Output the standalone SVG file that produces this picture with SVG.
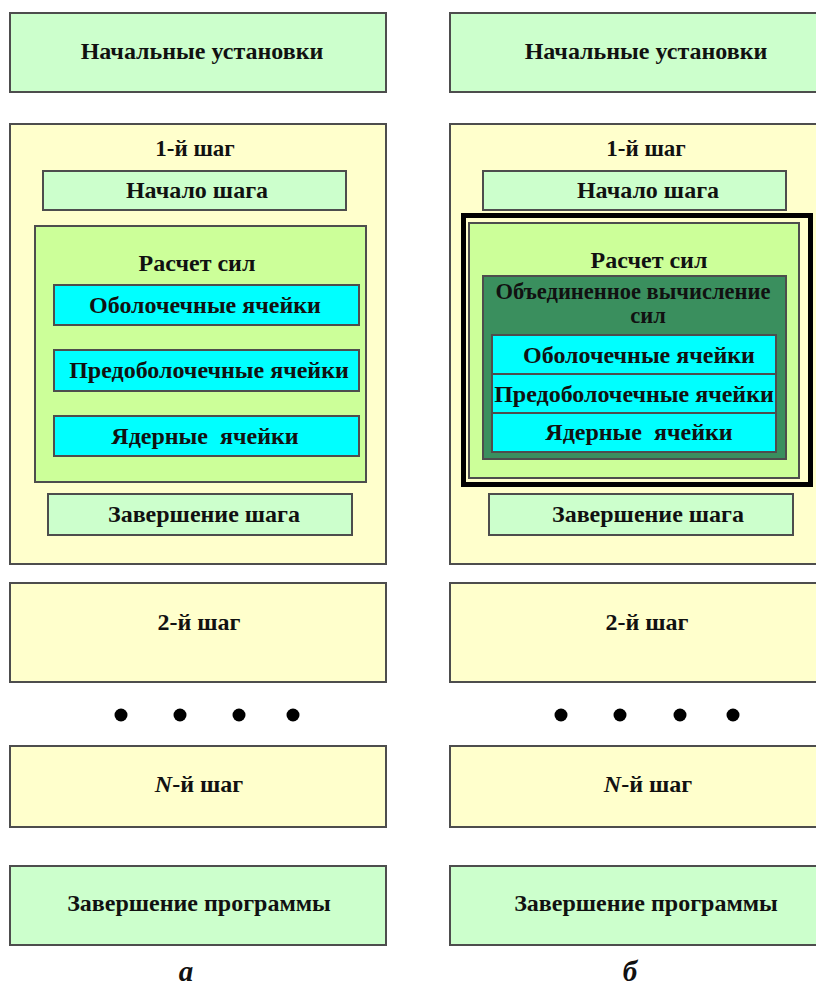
<svg xmlns="http://www.w3.org/2000/svg" width="816" height="991" viewBox="0 0 816 991">
<style>
.b{stroke:#4d4d4d;stroke-width:2}
.lg{fill:#ccffcc}
.yl{fill:#ffffcc}
.gr{fill:#ccff99}
.cy{fill:#00ffff}
.dg{fill:#3a8f5e}
text{font-family:"Liberation Serif","Times New Roman",serif;font-weight:bold;font-size:24px;fill:#111;text-anchor:middle}
.sm{font-size:23px}
.un{font-size:22.5px}
.lab{font-size:29px;font-style:italic}
</style>
<rect width="816" height="991" fill="#ffffff"/>
<!-- Left column (a) -->
<g id="a-start"><rect class="b lg" x="10" y="13" width="376" height="79"/><text x="202" y="59">Начальные установки</text></g>
<g id="a-step1"><rect class="b yl" x="10" y="124" width="376" height="440"/><text class="sm" x="195" y="156">1-й шаг</text></g>
<g id="a-stepstart"><rect class="b lg" x="43" y="171" width="303" height="39"/><text x="197" y="198">Начало шага</text></g>
<g id="a-forces"><rect class="b gr" x="35" y="226" width="331" height="256"/><text x="197" y="271">Расчет сил</text></g>
<g id="a-shell"><rect class="b cy" x="54" y="285" width="305" height="40"/><text x="205" y="313">Оболочечные ячейки</text></g>
<g id="a-preshell"><rect class="b cy" x="54" y="350" width="305" height="41"/><text x="209" y="378">Предоболочечные ячейки</text></g>
<g id="a-core"><rect class="b cy" x="54" y="416" width="305" height="40"/><text x="205" y="444" xml:space="preserve">Ядерные  ячейки</text></g>
<g id="a-stepend"><rect class="b lg" x="48" y="494" width="304" height="41"/><text x="204" y="522">Завершение шага</text></g>
<g id="a-step2"><rect class="b yl" x="10" y="583" width="376" height="99"/><text x="199" y="630">2-й шаг</text></g>
<g id="a-dots" fill="#000"><circle cx="121" cy="715" r="6.5"/><circle cx="180" cy="715" r="6.5"/><circle cx="239" cy="715" r="6.5"/><circle cx="293" cy="715" r="6.5"/></g>
<g id="a-stepN"><rect class="b yl" x="10" y="746" width="376" height="81"/><text x="199" y="792"><tspan font-style="italic">N</tspan>-й шаг</text></g>
<g id="a-end"><rect class="b lg" x="10" y="866" width="376" height="79"/><text x="199" y="911">Завершение программы</text></g>
<g id="a-label"><text class="lab" x="186" y="981">а</text></g>
<!-- Right column (b) -->
<g id="b-start"><rect class="b lg" x="450" y="13" width="380" height="79"/><text x="646" y="59">Начальные установки</text></g>
<g id="b-step1"><rect class="b yl" x="450" y="124" width="380" height="440"/><text class="sm" x="646" y="156">1-й шаг</text></g>
<g id="b-stepstart"><rect class="b lg" x="483" y="171" width="303" height="39"/><text x="648" y="198">Начало шага</text></g>
<g id="b-frame"><rect x="463.5" y="215.5" width="347" height="269" fill="none" stroke="#000" stroke-width="5"/></g>
<g id="b-forces"><rect class="b gr" x="469" y="223" width="330" height="255"/><text x="649" y="268">Расчет сил</text></g>
<g id="b-united"><rect class="b dg" x="483" y="276" width="303" height="183"/><text class="un" x="633" y="299">Объединенное вычисление</text><text class="un" x="648" y="323">сил</text></g>
<g id="b-shell"><rect class="b cy" x="492" y="335" width="284" height="39"/><text x="639" y="363">Оболочечные ячейки</text></g>
<g id="b-preshell"><rect class="b cy" x="492" y="374" width="284" height="39"/><text x="634" y="402">Предоболочечные ячейки</text></g>
<g id="b-core"><rect class="b cy" x="492" y="413" width="284" height="39"/><text x="639" y="440" xml:space="preserve">Ядерные  ячейки</text></g>
<g id="b-stepend"><rect class="b lg" x="489" y="494" width="304" height="41"/><text x="648" y="522">Завершение шага</text></g>
<g id="b-step2"><rect class="b yl" x="450" y="583" width="380" height="99"/><text x="647" y="630">2-й шаг</text></g>
<g id="b-dots" fill="#000"><circle cx="561" cy="715" r="6.5"/><circle cx="620" cy="715" r="6.5"/><circle cx="680" cy="715" r="6.5"/><circle cx="733" cy="715" r="6.5"/></g>
<g id="b-stepN"><rect class="b yl" x="450" y="746" width="380" height="81"/><text x="648" y="792"><tspan font-style="italic">N</tspan>-й шаг</text></g>
<g id="b-end"><rect class="b lg" x="450" y="866" width="380" height="79"/><text x="646" y="911">Завершение программы</text></g>
<g id="b-label"><text class="lab" x="630" y="981">б</text></g>
<g id="connectors"></g>
</svg>
